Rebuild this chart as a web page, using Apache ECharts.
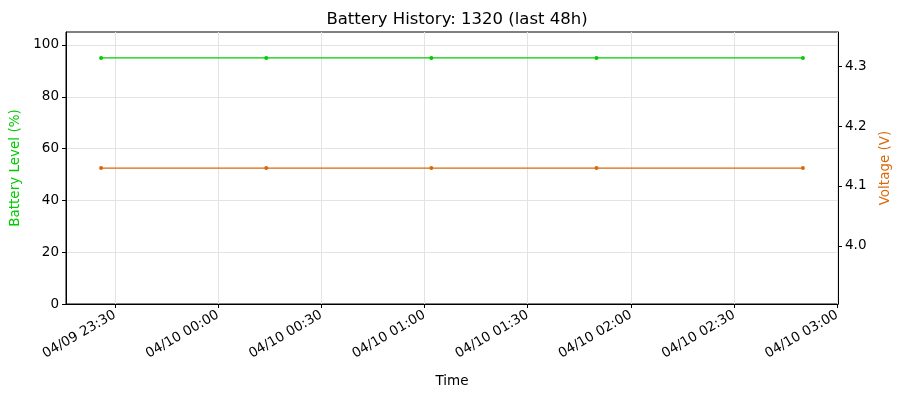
<!DOCTYPE html>
<html><head><meta charset="utf-8">
<script src="https://cdn.jsdelivr.net/npm/echarts@6/dist/echarts.min.js"></script>
<style>html,body{margin:0;padding:0;background:#fff}#c{width:901px;height:397px}</style>
</head><body><div id="c"></div>
<script>
const times = ['2025-04-09 23:26','2025-04-10 00:14','2025-04-10 01:02','2025-04-10 01:50','2025-04-10 02:50'];
const battery = [95, 95, 95, 95, 95];
const voltage = [4.13, 4.13, 4.13, 4.13, 4.13];
const timeTicks = ['2025-04-09 23:30','2025-04-10 00:00','2025-04-10 00:30','2025-04-10 01:00','2025-04-10 01:30','2025-04-10 02:00','2025-04-10 02:30','2025-04-10 03:00'];
const batteryTicks = [0, 20, 40, 60, 80, 100];
const voltageTicks = [4.0, 4.1, 4.2, 4.3];
const xMin = '2025-04-09 23:15:48';
const xMax = '2025-04-10 03:00:12';

function toTs(s){const [d,t]=s.split(' ');const [Y,M,D]=d.split('-').map(Number);const [h,m,sec]=t.split(':').map(Number);return new Date(Y,M-1,D,h,m,sec||0).getTime();}
function pad(n){return String(n).padStart(2,'0');}
function fmt(v){const d=new Date(v);return pad(d.getMonth()+1)+'/'+pad(d.getDate())+' '+pad(d.getHours())+':'+pad(d.getMinutes());}
const xTickTs = timeTicks.map(toTs);

const font = 'DejaVu Sans';
const gridColor = '#e3e3e3';
const chart = echarts.init(document.getElementById('c'), null, {renderer:'canvas'});
chart.setOption({
  animation:false,
  textStyle:{fontFamily:font},
  title:{text:'Battery History: 1320 (last 48h)',left:452,top:6,textAlign:'center',
    textStyle:{fontFamily:font,fontSize:16.5,fontWeight:'normal',color:'#000'}},
  grid:{left:66,right:63,top:32,bottom:93,outerBoundsMode:'none',containLabel:false,show:true,borderColor:'#000',borderWidth:1,backgroundColor:'transparent'},
  xAxis:{type:'value',min:toTs(xMin),max:toTs(xMax),scale:true,
    name:'Time',nameLocation:'middle',nameGap:70,nameTextStyle:{fontFamily:font,fontSize:13.5,color:'#000'},
    axisLine:{show:true,onZero:false,lineStyle:{color:'#000',width:1}},
    axisTick:{show:true,length:4,customValues:xTickTs,lineStyle:{color:'#000'}},
    axisLabel:{rotate:30,fontFamily:font,fontSize:13.5,color:'#000',margin:10,formatter:fmt,customValues:xTickTs,hideOverlap:false},
    splitLine:{show:false}},
  yAxis:[
    {type:'value',min:0,max:105,position:'left',
     name:'Battery Level (%)',nameLocation:'middle',nameGap:44,nameTextStyle:{fontFamily:font,fontSize:13.5,color:'#00cc00'},
     axisLine:{show:true,onZero:false,lineStyle:{color:'#000'}},
     axisTick:{show:true,length:4,customValues:batteryTicks,lineStyle:{color:'#000'}},
     axisLabel:{fontFamily:font,fontSize:13.5,color:'#000',margin:7,customValues:batteryTicks},
     splitLine:{show:true,lineStyle:{color:gridColor,width:1}}},
    {type:'value',min:3.9029,max:4.3572,position:'right',
     name:'Voltage (V)',nameLocation:'middle',nameGap:40,nameTextStyle:{fontFamily:font,fontSize:13.5,color:'#d96a0b'},
     axisLine:{show:true,onZero:false,lineStyle:{color:'#000'}},
     axisTick:{show:true,length:4,customValues:voltageTicks,lineStyle:{color:'#000'}},
     axisLabel:{fontFamily:font,fontSize:13.5,color:'#000',margin:7,customValues:voltageTicks,formatter:v=>v.toFixed(1)},
     splitLine:{show:false}}
  ],
  series:[
    {type:'line',name:'Battery',yAxisIndex:0,data:times.map((t,i)=>[toTs(t),battery[i]]),z:3,
     symbol:'circle',symbolSize:4,showSymbol:true,itemStyle:{color:'#00cc00'},lineStyle:{color:'#00cc00',width:1.3},
     markLine:{silent:true,symbol:'none',label:{show:false},animation:false,z:1,
       lineStyle:{color:gridColor,width:1,type:'solid'},
       data:xTickTs.map(v=>({xAxis:v}))}},
    {type:'line',name:'Voltage',yAxisIndex:1,data:times.map((t,i)=>[toTs(t),voltage[i]]),z:3,
     symbol:'circle',symbolSize:4,showSymbol:true,itemStyle:{color:'#d96a0b'},lineStyle:{color:'#d96a0b',width:1.3}}
  ]
});
</script></body></html>
